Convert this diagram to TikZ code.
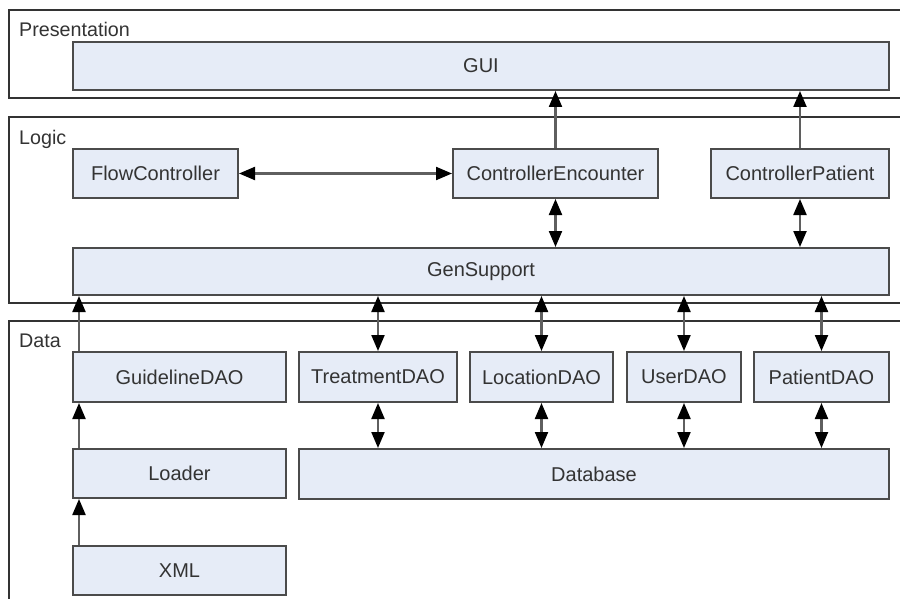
\documentclass[tikz,border=0pt]{standalone}
\usepackage{fontspec}
\setmainfont{Liberation Sans}
\usetikzlibrary{arrows.meta}
\definecolor{boxfill}{RGB}{230,236,247}
\definecolor{boxline}{RGB}{75,75,75}
\definecolor{arrline}{RGB}{95,95,95}
\definecolor{txt}{RGB}{51,51,51}
\tikzset{
  comp/.style={draw=boxline, line width=2pt, fill=boxfill, text=txt,
    font=\fontsize{20}{22}\selectfont, inner sep=0pt},
  layer/.style={draw=black!80, line width=1.8pt},
  layerlabel/.style={anchor=base west, inner sep=0pt, text=txt,
    font=\fontsize{19.7}{21}\selectfont},
  link/.style={draw=arrline, line width=2.2pt,
    -{Triangle[length=16pt,width=13pt,black]}},
  both/.style={draw=arrline, line width=2.2pt,
    {Triangle[length=16pt,width=13pt,black]}-{Triangle[length=16pt,width=13pt,black]}},
}
\begin{document}
\begin{tikzpicture}[x=1pt,y=-1pt]
\clip (0,0) rectangle (900,599);
\fill[white] (0,0) rectangle (900,599);
% layers
\draw[layer] (9,10) rectangle (915,98);
\draw[layer] (9,117) rectangle (915,303);
\draw[layer] (9,321) rectangle (915,620);
\node[layerlabel] (lp) at (19,37) {Presentation};
\node[layerlabel] (ll) at (19,145) {Logic};
\node[layerlabel] (ld) at (19,347) {Data};
% components
\node[comp, minimum width=816pt, minimum height=48pt] (gui) at (481,66) {GUI};
\node[comp, minimum width=165pt, minimum height=49pt] (flow) at (155.5,173.5) {FlowController};
\node[comp, minimum width=205pt, minimum height=49pt] (enc) at (555.5,173.5) {ControllerEncounter};
\node[comp, minimum width=178pt, minimum height=49pt] (pat) at (800,173.5) {ControllerPatient};
\node[comp, minimum width=816pt, minimum height=47pt] (gen) at (481,271.5) {GenSupport};
\node[comp, minimum width=213pt, minimum height=50pt] (guide) at (179.5,377) {GuidelineDAO};
\node[comp, minimum width=158pt, minimum height=50pt] (treat) at (378,377) {TreatmentDAO};
\node[comp, minimum width=143pt, minimum height=50pt] (loc) at (541.5,377) {LocationDAO};
\node[comp, minimum width=114pt, minimum height=50pt] (user) at (684,377) {UserDAO};
\node[comp, minimum width=135pt, minimum height=50pt] (pdao) at (821.5,377) {PatientDAO};
\node[comp, minimum width=213pt, minimum height=49pt] (loader) at (179.5,473.5) {Loader};
\node[comp, minimum width=590pt, minimum height=50pt] (db) at (594,474) {Database};
\node[comp, minimum width=213pt, minimum height=49pt] (xml) at (179.5,570.5) {XML};
% helper coordinates
\coordinate (g1) at ([xshift=7pt]guide.north west);
\coordinate (g2) at ([xshift=7pt]loader.north west);
\coordinate (g3) at ([xshift=7pt]xml.north west);
% connectors
\draw[both] (flow.east) -- (enc.west);
\draw[link] (enc.north) -- (enc.north |- gui.south);
\draw[link] (pat.north) -- (pat.north |- gui.south);
\draw[both] (enc.south) -- (enc.south |- gen.north);
\draw[both] (pat.south) -- (pat.south |- gen.north);
\draw[both] (treat.north |- gen.south) -- (treat.north);
\draw[both] (loc.north |- gen.south) -- (loc.north);
\draw[both] (user.north |- gen.south) -- (user.north);
\draw[both] (pdao.north |- gen.south) -- (pdao.north);
\draw[link] (g1) -- (g1 |- gen.south);
\draw[link] (g2) -- (g2 |- guide.south);
\draw[link] (g3) -- (g3 |- loader.south);
\draw[both] (treat.south) -- (treat.south |- db.north);
\draw[both] (loc.south) -- (loc.south |- db.north);
\draw[both] (user.south) -- (user.south |- db.north);
\draw[both] (pdao.south) -- (pdao.south |- db.north);
\end{tikzpicture}
\end{document}
